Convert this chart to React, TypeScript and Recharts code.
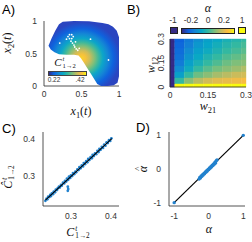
import React from "react";
import {
  ComposedChart,
  ScatterChart,
  Scatter,
  XAxis,
  YAxis,
  ReferenceArea,
} from "recharts";

// A) outline of the sampled region in (x1, x2), clockwise from the left tip
const outlineX = [0.06, 0.1, 0.15, 0.2, 0.25, 0.4, 0.6, 0.78, 0.86, 0.92, 0.97, 1.0, 1.0, 1.0, 0.98, 0.93, 0.85, 0.76, 0.71, 0.64, 0.58, 0.53, 0.49, 0.46, 0.4, 0.3, 0.2, 0.14, 0.09];
const outlineY = [0.62, 0.73, 0.85, 0.95, 0.99, 1.0, 0.995, 0.97, 0.95, 0.91, 0.85, 0.75, 0.45, 0.15, 0.05, 0.01, 0.0, 0.0, 0.03, 0.16, 0.27, 0.36, 0.43, 0.47, 0.48, 0.48, 0.49, 0.52, 0.56];
// unsampled holes inside the region
const holePoints = [
  [0.32, 0.76], [0.34, 0.79], [0.37, 0.79], [0.39, 0.76], [0.37, 0.73], [0.34, 0.73],
  [0.36, 0.69], [0.38, 0.66], [0.4, 0.63], [0.41, 0.6], [0.43, 0.57], [0.45, 0.55],
  [0.47, 0.58], [0.3, 0.72], [0.42, 0.68], [0.62, 0.72], [0.86, 0.4], [0.21, 0.66],
];

// B) alpha over the (w21, w12) grid, rows top (w12 = 0.3) to bottom (w12 = 0)
const w21Values = [0, 0.0375, 0.075, 0.1125, 0.15, 0.1875, 0.225, 0.2625, 0.3];
const w12Values = [0.3, 0.2625, 0.225, 0.1875, 0.15, 0.1125, 0.075, 0.0375, 0];
const alphaRows = [
  [-1, -0.22, -0.17, -0.13, -0.09, -0.07, -0.04, -0.02, 0.0],
  [-1, -0.21, -0.16, -0.11, -0.08, -0.05, -0.02, 0.0, 0.02],
  [-1, -0.2, -0.14, -0.09, -0.06, -0.03, 0.0, 0.02, 0.04],
  [-1, -0.19, -0.12, -0.07, -0.03, 0.0, 0.03, 0.05, 0.07],
  [-1, -0.17, -0.09, -0.04, 0.0, 0.03, 0.06, 0.08, 0.09],
  [-1, -0.14, -0.06, 0.0, 0.04, 0.07, 0.09, 0.11, 0.13],
  [-1, -0.09, 0.0, 0.06, 0.09, 0.12, 0.14, 0.16, 0.17],
  [-1, 0.0, 0.09, 0.14, 0.17, 0.19, 0.2, 0.21, 0.22],
  [-1, 1, 1, 1, 1, 1, 1, 1, 1],
];
const alphaBarTicks = ["-1", "-0.2", "0", "0.2", "1"];

// C) true vs estimated C
const cPoints = [
  [0.236, 0.234], [0.239, 0.24], [0.241, 0.238], [0.243, 0.245], [0.246, 0.244], [0.248, 0.25],
  [0.25, 0.247], [0.252, 0.254], [0.255, 0.252], [0.257, 0.259], [0.26, 0.257], [0.262, 0.264],
  [0.265, 0.263], [0.267, 0.268], [0.27, 0.272], [0.272, 0.27], [0.275, 0.277], [0.277, 0.275],
  [0.28, 0.283], [0.283, 0.281], [0.285, 0.288], [0.288, 0.286], [0.29, 0.294], [0.293, 0.291],
  [0.295, 0.299], [0.298, 0.296], [0.3, 0.303], [0.303, 0.301], [0.305, 0.309], [0.308, 0.306],
  [0.311, 0.313], [0.313, 0.311], [0.316, 0.319], [0.319, 0.317], [0.321, 0.325], [0.324, 0.322],
  [0.327, 0.33], [0.33, 0.327], [0.332, 0.336], [0.335, 0.333], [0.338, 0.341], [0.341, 0.338],
  [0.343, 0.347], [0.346, 0.344], [0.349, 0.352], [0.352, 0.349], [0.354, 0.358], [0.357, 0.355],
  [0.36, 0.362], [0.363, 0.36], [0.366, 0.369], [0.369, 0.366], [0.371, 0.374], [0.374, 0.372],
  [0.377, 0.38], [0.38, 0.377], [0.383, 0.386], [0.386, 0.383], [0.389, 0.392], [0.392, 0.39],
  [0.395, 0.398], [0.398, 0.396], [0.401, 0.403],
  [0.292, 0.272], [0.293, 0.266], [0.292, 0.261],
];
const cLine = [0.236, 0.402];

// D) true vs estimated alpha
const dPoints = [
  [-1, -1], [1, 1],
  [-0.28, -0.3], [-0.26, -0.25], [-0.24, -0.27], [-0.22, -0.21], [-0.2, -0.22], [-0.18, -0.17],
  [-0.16, -0.18], [-0.14, -0.13], [-0.12, -0.14], [-0.1, -0.09], [-0.08, -0.1], [-0.06, -0.05],
  [-0.04, -0.06], [-0.02, -0.01], [0.0, -0.02], [0.02, 0.03], [0.04, 0.02], [0.06, 0.07],
  [0.08, 0.06], [0.1, 0.11], [0.12, 0.1], [0.14, 0.15], [0.16, 0.14], [0.18, 0.2],
  [0.2, 0.18], [0.22, 0.25], [0.24, 0.27],
];
const dLine = [-1, 1];

const parulaStops: [number, string][] = [
  [0, "#352A87"], [0.125, "#0D61DE"], [0.25, "#1485D4"], [0.375, "#06A7C6"],
  [0.5, "#33B8A1"], [0.625, "#7ABF7C"], [0.75, "#C3BC5F"], [0.875, "#FBBC41"],
  [0.94, "#F5D82C"], [1, "#F9FB0E"],
];

function hexToRgb(h: string) {
  return [1, 3, 5].map((i) => parseInt(h.slice(i, i + 2), 16));
}

function parula(t: number) {
  const v = Math.max(0, Math.min(1, t));
  for (let i = 1; i < parulaStops.length; i++) {
    const [t1, c1] = parulaStops[i];
    const [t0, c0] = parulaStops[i - 1];
    if (v <= t1) {
      const f = (v - t0) / (t1 - t0);
      const a = hexToRgb(c0);
      const b = hexToRgb(c1);
      const rgb = a.map((x, k) => Math.round(x + (b[k] - x) * f));
      return `rgb(${rgb.join(",")})`;
    }
  }
  return parulaStops[parulaStops.length - 1][1];
}

const alphaColor = (a: number) => parula((a + 0.3) / 0.6);
const barGradient = `linear-gradient(to right, ${parulaStops.map(([t, c]) => `${c} ${t * 100}%`).join(", ")})`;

const ink = "#262626";
const axisLine = { stroke: ink, strokeWidth: 0.8 };
const tickFont = { fontSize: 8.5, fill: "#333", fontFamily: '"Liberation Sans", Arial, sans-serif' };
const serif = '"Liberation Serif", "DejaVu Serif", serif';
const dotBlue = "#2282CE";

function Tex({ x, y, rot, size = 12, children }: any) {
  return (
    <div
      style={{
        position: "absolute",
        left: x,
        top: y,
        transform: `translate(-50%, -50%)${rot ? " rotate(-90deg)" : ""}`,
        fontFamily: serif,
        fontSize: size,
        lineHeight: 1,
        whiteSpace: "nowrap",
        color: "#111",
      }}
    >
      {children}
    </div>
  );
}

const Sub = ({ children }: any) => (
  <span style={{ fontSize: "0.7em", verticalAlign: "-0.35em", fontStyle: "normal" }}>{children}</span>
);

const SupSub = ({ sup, sub }: any) => (
  <span
    style={{
      display: "inline-flex",
      flexDirection: "column",
      fontSize: "0.6em",
      lineHeight: 1,
      verticalAlign: "middle",
      marginLeft: 1,
    }}
  >
    <i>{sup}</i>
    <span>{sub}</span>
  </span>
);

const Hat = ({ children }: any) => (
  <span style={{ position: "relative", display: "inline-block" }}>
    <i>{children}</i>
    <span style={{ position: "absolute", left: "55%", top: "-0.35em", transform: "translateX(-50%)", fontSize: "0.75em" }}>
      ^
    </span>
  </span>
);

function Letter({ x, y, children }: any) {
  return (
    <div
      style={{
        position: "absolute",
        left: x,
        top: y,
        fontFamily: '"Liberation Sans", Arial, sans-serif',
        fontSize: 13,
        lineHeight: 1,
      }}
    >
      {children}
    </div>
  );
}

const RotTick = (p: any) => (
  <text
    x={p.x}
    y={p.y}
    transform={`rotate(-90 ${p.x} ${p.y})`}
    textAnchor="middle"
    {...tickFont}
  >
    {p.payload.value}
  </text>
);

const dot = (r: number, fill: string) => (p: any) => <circle cx={p.cx} cy={p.cy} r={r} fill={fill} />;
const noDot = () => <g />;

export default function App() {
  const outline = outlineX.map((x, i) => ({ x, y: outlineY[i] }));
  const holes = holePoints.map(([x, y]) => ({ x, y }));
  const stepX = w21Values[1] - w21Values[0];
  const stepY = w12Values[0] - w12Values[1];
  const cells: { x: number; y: number; a: number }[] = [];
  alphaRows.forEach((row, r) => row.forEach((a, c) => cells.push({ x: w21Values[c], y: w12Values[r], a })));
  const cData = cPoints.map(([x, y]) => ({ x, y }));
  const dData = dPoints.map(([x, y]) => ({ x, y }));
  const cLineData = cLine.map((v) => ({ x: v, y: v }));
  const dLineData = dLine.map((v) => ({ x: v, y: v }));

  return (
    <div style={{ position: "absolute", left: 0, top: 0, width: 252, height: 242, background: "#fff", overflow: "hidden" }}>
      {/* A */}
      <div style={{ position: "absolute", left: 0, top: 0 }}>
        <ScatterChart width={126} height={121} margin={{ top: 21, right: 7, bottom: 15, left: 14 }}>
          <defs>
            <radialGradient id="blobFill" cx="0.47" cy="0.57" r="0.55">
              <stop offset="0" stopColor="#F9D22E" />
              <stop offset="0.1" stopColor="#F7C23B" />
              <stop offset="0.22" stopColor="#C9BC5C" />
              <stop offset="0.33" stopColor="#83BF78" />
              <stop offset="0.44" stopColor="#3CB89D" />
              <stop offset="0.55" stopColor="#0CA6C8" />
              <stop offset="0.68" stopColor="#1487D5" />
              <stop offset="0.82" stopColor="#0F62DD" />
              <stop offset="1" stopColor="#2A45C0" />
            </radialGradient>
          </defs>
          <XAxis dataKey="x" type="number" domain={[0, 1]} ticks={[0, 0.5, 1]} height={20} tickSize={0} tickMargin={5} tick={tickFont} axisLine={axisLine} allowDataOverflow />
          <YAxis dataKey="y" type="number" domain={[0, 1]} ticks={[0, 0.5, 1]} width={30} tickSize={0} tickMargin={7} tick={tickFont} axisLine={axisLine} allowDataOverflow />
          <Scatter
            data={outline}
            line={{ fill: "url(#blobFill)", stroke: "none" }}
            lineJointType="linearClosed"
            shape={noDot}
            isAnimationActive={false}
          />
          <Scatter data={holes} shape={dot(0.9, "#fff")} isAnimationActive={false} />
        </ScatterChart>
      </div>
      <Letter x={2} y={3}>A)</Letter>
      <Tex x={81} y={113}>
        <i>x</i><Sub>1</Sub>(<i>t</i>)
      </Tex>
      <Tex x={9} y={43} rot>
        <i>x</i><Sub>2</Sub>(<i>t</i>)
      </Tex>
      <Tex x={65} y={63} size={11}>
        <i>C</i><SupSub sup="t" sub="1→2" />
      </Tex>
      <div style={{ position: "absolute", left: 48, top: 71, width: 37, height: 3, background: barGradient, border: "0.5px solid #444" }} />
      <div style={{ position: "absolute", left: 54, top: 79, transform: "translate(-50%,-50%)", fontSize: 6.5, fontFamily: tickFont.fontFamily, color: "#333" }}>0.22</div>
      <div style={{ position: "absolute", left: 80, top: 79, transform: "translate(-50%,-50%)", fontSize: 6.5, fontFamily: tickFont.fontFamily, color: "#333" }}>.42</div>

      {/* B */}
      <div style={{ position: "absolute", left: 126, top: 0 }}>
        <ComposedChart width={126} height={121} margin={{ top: 39, right: 6, bottom: 14, left: 14 }}>
          <XAxis dataKey="x" type="number" domain={[0, 0.3]} ticks={[0, 0.15, 0.3]} height={20} tickSize={0} tickMargin={5} tick={tickFont} axisLine={axisLine} allowDataOverflow />
          <YAxis dataKey="y" type="number" domain={[0, 0.3]} ticks={[0, 0.15, 0.3]} width={30} tickSize={0} tickMargin={6} tick={<RotTick />} axisLine={axisLine} allowDataOverflow />
          {cells.map((c, i) => (
            <ReferenceArea
              key={i}
              x1={Math.max(0, c.x - stepX / 2)}
              x2={Math.min(0.3, c.x + stepX / 2)}
              y1={Math.max(0, c.y - stepY / 2)}
              y2={Math.min(0.3, c.y + stepY / 2)}
              fill={alphaColor(c.a)}
              fillOpacity={1}
              stroke={alphaColor(c.a)}
              strokeWidth={0.4}
              ifOverflow="visible"
            />
          ))}
          <Scatter data={cells} shape={noDot} isAnimationActive={false} />
        </ComposedChart>
      </div>
      <Letter x={127} y={3}>B)</Letter>
      <Tex x={208} y={8} size={12}>
        <i>α</i>
      </Tex>
      <div style={{ position: "absolute", left: 170, top: 27, width: 6, height: 5, background: parula(0), border: "0.8px solid #222" }} />
      <div style={{ position: "absolute", left: 181, top: 28, width: 52, height: 4, background: barGradient, border: "0.8px solid #222" }} />
      <div style={{ position: "absolute", left: 238, top: 27, width: 6, height: 5, background: parula(1), border: "0.8px solid #222" }} />
      {alphaBarTicks.map((t, i) => (
        <div
          key={t}
          style={{
            position: "absolute",
            left: [173, 191, 208, 224, 242][i],
            top: 20,
            transform: "translate(-50%,-50%)",
            fontSize: 8.5,
            fontFamily: tickFont.fontFamily,
            color: "#333",
          }}
        >
          {t}
        </div>
      ))}
      <Tex x={208} y={108}>
        <i>w</i><Sub>21</Sub>
      </Tex>
      <Tex x={153} y={65} rot>
        <i>w</i><Sub>12</Sub>
      </Tex>

      {/* C */}
      <div style={{ position: "absolute", left: 0, top: 121 }}>
        <ScatterChart width={126} height={121} margin={{ top: 11, right: 7, bottom: 16, left: 13 }}>
          <XAxis dataKey="x" type="number" domain={[0.23, 0.42]} ticks={[0.3, 0.4]} height={20} tickSize={0} tickMargin={7} tick={tickFont} axisLine={axisLine} allowDataOverflow />
          <YAxis dataKey="y" type="number" domain={[0.22, 0.42]} ticks={[0.3, 0.4]} width={30} tickSize={0} tickMargin={8} tick={tickFont} axisLine={axisLine} allowDataOverflow />
          <Scatter data={cData} shape={dot(1.4, dotBlue)} isAnimationActive={false} />
          <Scatter data={cLineData} line={{ stroke: "#000", strokeWidth: 1.1 }} shape={noDot} isAnimationActive={false} />
        </ScatterChart>
      </div>
      <Letter x={2} y={122}>C)</Letter>
      <Tex x={78} y={233}>
        <i>C</i><SupSub sup="t" sub="1→2" />
      </Tex>
      <Tex x={9} y={177} rot>
        <i>Ĉ</i><SupSub sup="t" sub="1→2" />
      </Tex>

      {/* D */}
      <div style={{ position: "absolute", left: 126, top: 121 }}>
        <ScatterChart width={126} height={121} margin={{ top: 11, right: 7, bottom: 16, left: 13 }}>
          <XAxis dataKey="x" type="number" domain={[-1.15, 1.05]} ticks={[-1, 0, 1]} height={20} tickSize={0} tickMargin={7} tick={tickFont} axisLine={axisLine} allowDataOverflow />
          <YAxis dataKey="y" type="number" domain={[-1.1, 1.1]} ticks={[-1, 0, 1]} width={30} tickSize={0} tickMargin={8} tick={tickFont} axisLine={axisLine} allowDataOverflow />
          <Scatter data={dLineData} line={{ stroke: "#000", strokeWidth: 1.2 }} shape={noDot} isAnimationActive={false} />
          <Scatter data={dData} shape={dot(1.7, dotBlue)} isAnimationActive={false} />
        </ScatterChart>
      </div>
      <Letter x={136} y={121}>D)</Letter>
      <Tex x={209} y={229}>
        <i>α</i>
      </Tex>
      <Tex x={143} y={169} rot>
        <Hat>α</Hat>
      </Tex>
    </div>
  );
}
